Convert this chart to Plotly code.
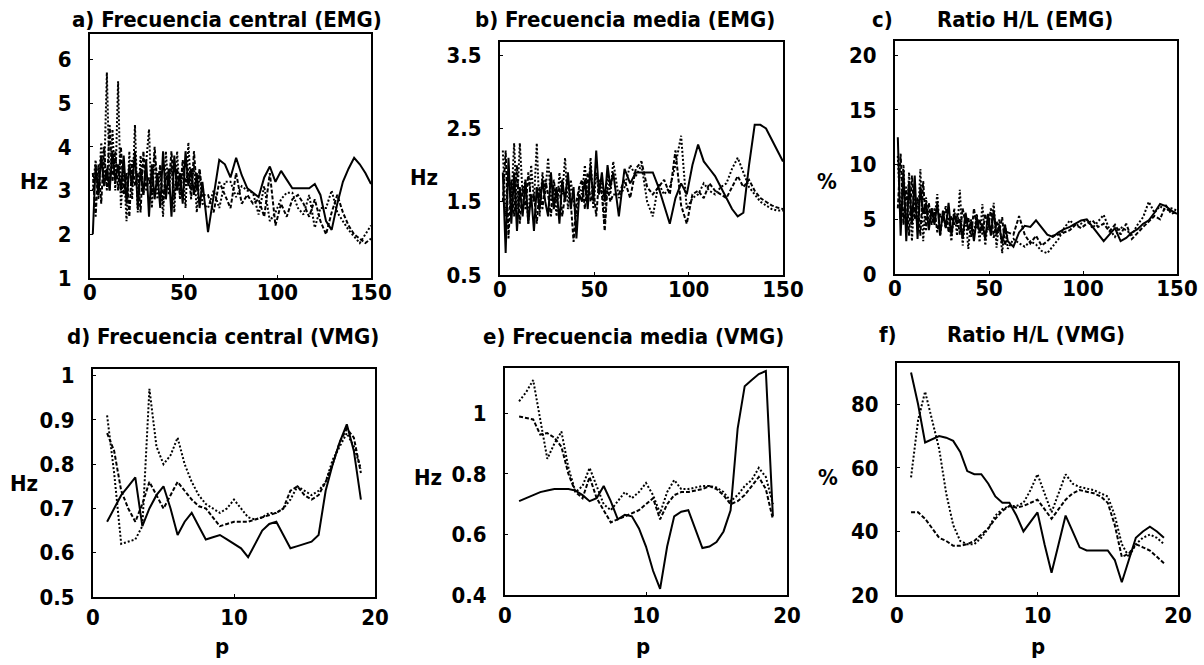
import plotly.graph_objects as go

# ---------------- data ----------------
X_TOP = [1.5, 3, 4.5, 6, 7.5, 9, 10.5, 12, 13.5, 15, 16.5, 18, 19.5, 21, 22.5, 24, 25.5, 27, 28.5, 30,
         31.5, 33, 34.5, 36, 37.5, 39, 40.5, 42, 43.5, 45, 46.5, 48, 49.5, 51, 52.5, 54, 55.5, 57, 58.5, 60,
         63, 66, 69, 72, 75, 78, 81, 84, 87, 90, 93, 96, 99, 102, 105, 108, 111, 114, 117, 120,
         123, 126, 129, 132, 135, 138, 141, 144, 147, 150]

A_SOLID = [2.0, 3.6, 2.9, 3.8, 3.1, 3.5, 3.0, 3.9, 3.2, 3.6, 3.0, 3.8, 2.7, 3.6, 3.1, 3.9, 2.6, 3.5, 2.9, 3.7,
           2.4, 3.6, 2.8, 3.4, 2.6, 3.9, 2.8, 3.5, 2.4, 3.8, 3.0, 3.4, 2.7, 3.9, 3.1, 3.5, 2.9, 3.4, 2.6, 3.2,
           2.05, 2.9, 3.7, 3.6, 3.3, 3.75, 3.35, 3.05, 2.95, 2.85, 3.3, 3.55, 3.2, 3.45, 3.25, 3.05, 3.05, 3.05, 3.05, 3.15,
           2.9, 2.3, 2.1, 2.7, 3.2, 3.5, 3.75, 3.6, 3.4, 3.15]
A_DOT = [3.0, 3.7, 2.8, 4.1, 3.2, 5.7, 3.0, 4.4, 3.0, 5.5, 2.6, 3.6, 2.3, 3.9, 2.8, 4.5, 2.5, 3.8, 2.9, 3.6,
         4.4, 2.6, 3.8, 2.8, 3.5, 2.4, 3.9, 2.9, 3.6, 2.5, 3.9, 2.8, 3.5, 2.6, 4.1, 3.0, 3.6, 2.5, 3.4, 2.7,
         2.6, 3.0, 2.6, 3.2, 3.2, 2.85, 3.1, 3.0, 2.95, 2.45, 3.1, 2.3, 2.5, 2.8, 2.95, 2.95, 2.6, 2.45, 2.9, 2.15,
         2.6, 2.6, 3.0, 2.5, 2.3, 2.1, 1.95, 1.8, 2.0, 2.2]
A_DASH = [3.4, 2.4, 3.6, 2.7, 4.0, 3.0, 4.5, 3.2, 3.9, 3.0, 4.0, 2.9, 3.4, 2.4, 3.7, 3.1, 3.4, 2.5, 3.9, 3.0,
          3.3, 2.9, 4.0, 3.1, 3.6, 2.7, 3.4, 3.1, 3.9, 2.8, 3.5, 2.9, 3.7, 3.1, 3.5, 2.8, 3.9, 3.0, 3.5, 2.9,
          2.9, 2.5, 3.2, 2.9, 2.6, 3.4, 2.7, 2.9, 2.7, 2.8, 2.4, 3.4, 2.2, 2.7, 2.4, 2.8, 2.9, 2.7, 2.4, 2.8,
          2.3, 2.0, 2.5, 2.9, 2.5, 2.2, 2.0, 1.9, 1.8, 1.9]

B_SOLID = [1.9, 0.8, 2.1, 1.2, 1.9, 1.1, 1.7, 1.3, 1.8, 1.2, 1.6, 1.1, 1.7, 1.4, 1.8, 1.5, 1.3, 1.9, 1.4, 1.7,
           1.2, 1.8, 1.5, 1.9, 1.4, 1.7, 1.0, 1.6, 1.5, 1.8, 1.4, 2.0, 1.5, 2.2, 1.6, 1.9, 1.5, 2.0, 1.7, 1.9,
           1.3, 1.95, 1.75, 1.9, 1.9, 1.9, 1.9, 1.7, 1.45, 1.2, 1.55, 1.75, 1.6, 2.0, 2.28, 2.05, 1.95, 1.85, 1.7, 1.55,
           1.4, 1.3, 1.35, 2.0, 2.55, 2.55, 2.5, 2.35, 2.2, 2.05]
B_DOT = [2.2, 1.3, 1.9, 1.5, 2.3, 1.4, 2.3, 1.6, 1.8, 1.2, 2.0, 1.5, 2.3, 1.3, 1.9, 1.6, 2.1, 1.5, 1.7, 1.3,
         1.9, 1.6, 2.1, 1.4, 1.8, 1.5, 1.3, 1.7, 1.6, 2.0, 1.5, 2.1, 1.4, 1.9, 1.6, 1.8, 1.2, 1.9, 1.6, 2.05,
         1.55, 1.7, 2.0, 1.85, 2.0, 1.5, 1.3, 1.75, 1.6, 1.7, 2.0, 2.4, 1.4, 1.55, 1.6, 1.75, 1.65, 1.6, 1.7, 1.75,
         1.95, 2.1, 1.9, 1.7, 1.6, 1.5, 1.45, 1.4, 1.38, 1.38]
B_DASH = [1.5, 2.2, 1.0, 1.8, 1.3, 2.0, 1.2, 1.7, 1.4, 1.9, 1.5, 1.6, 1.2, 1.7, 1.4, 1.8, 1.6, 1.3, 1.8, 1.5,
          1.7, 1.3, 1.6, 1.8, 1.5, 0.95, 1.5, 1.7, 1.8, 1.4, 1.9, 1.5, 1.7, 1.3, 1.8, 1.6, 1.1, 1.7, 1.5, 1.6,
          1.6, 1.8, 1.55, 1.95, 2.05, 1.7, 1.6, 1.7, 1.8, 1.6, 2.2, 1.45, 1.2, 1.6, 1.65, 1.55, 1.75, 1.65, 1.6, 1.55,
          1.7, 1.85, 1.7, 1.8, 1.65, 1.55, 1.5, 1.45, 1.42, 1.4]

C_SOLID = [12.5, 3.5, 9.5, 3.0, 8.5, 4.5, 9.0, 3.2, 8.0, 5.5, 6.5, 4.0, 6.0, 4.5, 6.5, 3.5, 5.8, 4.2, 6.5, 3.5,
           5.5, 4.6, 5.0, 3.2, 5.6, 4.0, 4.8, 3.0, 5.2, 3.8, 4.6, 3.2, 5.5, 3.5, 5.8, 3.6, 4.4, 2.8, 4.5, 3.0,
           2.5, 3.8, 4.4, 4.3, 4.9, 4.3, 3.6, 3.4, 3.8, 4.1, 4.3, 4.6, 4.9, 5.0, 4.3, 3.6, 3.0, 3.6, 4.2, 3.0,
           3.3, 3.8, 4.1, 4.6, 4.9, 5.6, 6.4, 6.2, 5.8, 5.5]
C_DOT = [10.8, 5.0, 10.0, 3.8, 9.3, 3.0, 7.5, 4.0, 9.6, 3.0, 7.0, 4.5, 6.0, 5.0, 7.3, 3.5, 5.5, 4.2, 5.2, 3.0,
         6.0, 3.5, 7.7, 2.6, 5.5, 2.3, 5.0, 3.6, 5.5, 2.9, 6.4, 2.6, 5.0, 3.8, 6.5, 2.4, 5.0, 1.9, 4.5, 2.3,
         3.2, 2.8, 2.5, 3.0, 2.7, 2.1, 1.9, 2.5, 3.2, 4.2, 4.9, 4.4, 4.6, 5.0, 4.2, 4.8, 5.4, 4.1, 3.4, 4.3,
         4.0, 3.6, 4.5, 5.2, 6.6, 5.6, 6.2, 5.8, 6.0, 5.8]
C_DASH = [6.0, 11.0, 4.5, 8.0, 3.5, 9.0, 5.0, 7.0, 3.5, 8.5, 4.0, 6.5, 4.5, 6.0, 3.8, 5.5, 4.8, 6.2, 3.8, 5.3,
          4.5, 5.5, 3.6, 6.0, 4.6, 5.2, 3.4, 6.0, 4.2, 5.0, 3.6, 5.5, 4.0, 6.0, 3.3, 4.8, 3.9, 5.2, 2.6, 3.8,
          3.6, 5.3, 3.6, 2.8, 3.5, 2.6, 3.0, 3.5, 3.6, 3.8, 4.0, 4.5, 4.2, 4.6, 4.9, 4.3, 4.6, 3.9, 4.5, 3.6,
          4.6, 3.2, 3.8, 4.3, 4.8, 5.3, 5.0, 6.3, 5.5, 5.7]

P = [1, 1.5, 2, 2.5, 3, 3.5, 4, 4.5, 5, 5.5, 6, 6.5, 7, 7.5, 8, 8.5, 9, 9.5, 10, 10.5,
     11, 11.5, 12, 12.5, 13, 13.5, 14, 14.5, 15, 15.5, 16, 16.5, 17, 17.5, 18, 18.5, 19]

D_SOLID = [0.67, 0.70, 0.73, 0.75, 0.77, 0.66, 0.70, 0.73, 0.75, 0.70, 0.64, 0.67, 0.69, 0.66, 0.63, 0.635, 0.64, 0.63, 0.62, 0.61,
           0.59, 0.62, 0.65, 0.665, 0.67, 0.64, 0.61, 0.615, 0.62, 0.625, 0.64, 0.74, 0.80, 0.85, 0.89, 0.83, 0.72]
D_DOT = [0.91, 0.78, 0.62, 0.625, 0.63, 0.66, 0.97, 0.84, 0.80, 0.82, 0.86, 0.80, 0.76, 0.73, 0.71, 0.70, 0.69, 0.70, 0.72, 0.70,
         0.68, 0.675, 0.68, 0.69, 0.69, 0.70, 0.72, 0.75, 0.74, 0.73, 0.74, 0.76, 0.81, 0.84, 0.87, 0.84, 0.79]
D_DASH = [0.87, 0.83, 0.74, 0.70, 0.67, 0.71, 0.76, 0.73, 0.70, 0.73, 0.76, 0.74, 0.72, 0.705, 0.70, 0.68, 0.66, 0.665, 0.67, 0.67,
          0.67, 0.675, 0.68, 0.685, 0.69, 0.70, 0.74, 0.75, 0.73, 0.72, 0.73, 0.76, 0.80, 0.85, 0.88, 0.86, 0.78]

E_SOLID = [0.71, 0.72, 0.73, 0.74, 0.745, 0.75, 0.75, 0.75, 0.745, 0.73, 0.71, 0.72, 0.76, 0.71, 0.65, 0.665, 0.66, 0.62, 0.56, 0.48,
           0.42, 0.56, 0.66, 0.675, 0.68, 0.62, 0.555, 0.56, 0.575, 0.61, 0.68, 0.95, 1.09, 1.11, 1.13, 1.14, 0.66]
E_DOT = [1.04, 1.07, 1.11, 0.98, 0.85, 0.90, 0.94, 0.82, 0.74, 0.76, 0.82, 0.76, 0.70, 0.68, 0.71, 0.74, 0.72, 0.74, 0.77, 0.73,
         0.67, 0.74, 0.78, 0.75, 0.75, 0.755, 0.76, 0.76, 0.755, 0.74, 0.71, 0.73, 0.76, 0.78, 0.82, 0.79, 0.70]
E_DASH = [0.99, 0.985, 0.98, 0.93, 0.935, 0.92, 0.89, 0.80, 0.74, 0.72, 0.79, 0.72, 0.68, 0.64, 0.65, 0.66, 0.67, 0.68, 0.70, 0.72,
          0.65, 0.70, 0.73, 0.74, 0.74, 0.745, 0.75, 0.76, 0.75, 0.73, 0.70, 0.71, 0.73, 0.76, 0.79, 0.75, 0.65]

F_SOLID = [90, 80, 68, 69, 70, 69.5, 68.5, 65, 59, 58, 58, 55, 51, 49, 49, 45, 40, 43, 46, 36,
           27, 36, 45, 40, 35, 34, 34, 34, 34, 31, 24, 31, 38, 40, 41.5, 40, 38]
F_DOT = [57, 75, 84, 75, 66, 52, 42, 37, 36, 36, 38, 41, 45, 47, 48, 48, 49, 53, 58, 52,
         46, 52, 58, 55, 54, 53.5, 53, 52, 51, 45, 36, 32, 36, 38, 39, 38, 36]
F_DASH = [46, 46, 44, 41, 38, 37, 35.5, 35.5, 36, 37, 39, 41, 44, 46.5, 48, 47.5, 48, 49, 50, 47,
          44, 47, 50, 52, 53, 52.5, 52, 51, 49, 42, 32, 33, 36, 35, 34, 32, 30]

TITLES = ["a) Frecuencia central (EMG)", "b) Frecuencia media (EMG)", "Ratio H/L (EMG)",
          "d) Frecuencia central (VMG)", "e) Frecuencia media (VMG)", "Ratio H/L (VMG)"]
UNITS = ["Hz", "Hz", "%", "Hz", "Hz", "%"]
X_TICKS_TOP = [0, 50, 100, 150]
X_TICKS_BOT = [0, 10, 20]
Y_TICKS = [[1, 2, 3, 4, 5, 6], [0.5, 1.5, 2.5, 3.5], [0, 5, 10, 15, 20],
           [0.5, 0.6, 0.7, 0.8, 0.9, 1], [0.4, 0.6, 0.8, 1], [20, 40, 60, 80]]
Y_TICKTEXT = [["1", "2", "3", "4", "5", "6"], ["0.5", "1.5", "2.5", "3.5"], ["0", "5", "10", "15", "20"],
              ["0.5", "0.6", "0.7", "0.8", "0.9", "1"], ["0.4", "0.6", "0.8", "1"], ["20", "40", "60", "80"]]

# ---------------- layout ----------------
W, H = 1204, 665
FONT = "Liberation Sans Narrow, Arial Narrow, DejaVu Sans Condensed, Roboto Condensed, sans-serif"

# plot boxes in pixels: (left, right, top, bottom)
BOXES = [(90, 371, 34, 278), (500, 783, 42, 275), (895, 1177, 41, 274),
         (93, 375, 369, 597), (505, 787, 368, 595), (897, 1178, 363, 595)]
Y_RANGES = [[1, 6.58], [0.5, 3.68], [0, 21.3], [0.5, 1.015], [0.4, 1.15], [20, 93]]
X_RANGES = [[0, 150]] * 3 + [[0, 20]] * 3

panels = [
    (X_TOP, A_SOLID, A_DASH, A_DOT),
    (X_TOP, B_SOLID, B_DASH, B_DOT),
    (X_TOP, C_SOLID, C_DASH, C_DOT),
    (P, D_SOLID, D_DASH, D_DOT),
    (P, E_SOLID, E_DASH, E_DOT),
    (P, F_SOLID, F_DASH, F_DOT),
]

fig = go.Figure()
layout = dict(template="none", width=W, height=H,
              margin=dict(l=0, r=0, t=0, b=0, pad=0, autoexpand=False),
              paper_bgcolor="white", plot_bgcolor="white", showlegend=False)

styles = [("solid", "black"), ("4px,2px", "black"), ("2px,2px", "black")]

for i, (xs, s, d, t) in enumerate(panels):
    n = i + 1
    xa = "x" if n == 1 else f"x{n}"
    ya = "y" if n == 1 else f"y{n}"
    for ys, (dash, col) in zip([s, d, t], styles):
        fig.add_trace(go.Scatter(x=xs, y=ys, mode="lines", xaxis=xa, yaxis=ya,
                                 line=dict(color=col, width=2, dash=dash)))
    l, r, tp, bt = BOXES[i]
    tickfont = dict(family=FONT, size=22, color="black", weight="bold")
    layout["xaxis" if n == 1 else f"xaxis{n}"] = dict(
        domain=[l / W, r / W], range=X_RANGES[i], anchor=ya, automargin=False,
        tickmode="array", tickvals=X_TICKS_TOP if i < 3 else X_TICKS_BOT,
        showline=True, linecolor="black", linewidth=2, mirror=True,
        ticks="inside", ticklen=3, tickcolor="black", showgrid=False, zeroline=False,
        tickfont=tickfont, ticklabelstandoff=-6 if i < 3 else 0)
    layout["yaxis" if n == 1 else f"yaxis{n}"] = dict(
        domain=[1 - bt / H, 1 - tp / H], range=Y_RANGES[i], anchor=xa, automargin=False,
        tickmode="array", tickvals=Y_TICKS[i], ticktext=Y_TICKTEXT[i],
        showline=True, linecolor="black", linewidth=2, mirror=True,
        ticks="inside", ticklen=3, tickcolor="black", showgrid=False, zeroline=False,
        tickfont=tickfont, ticklabelstandoff=12)

ann_font = dict(family=FONT, size=22, color="black", weight="bold")
annotations = []
# titles (pixel centres)
title_pos = [(227, 19), (625, 19), (1025, 19), (223, 336), (633, 336), (1036, 334)]
for (cx, cy), txt in zip(title_pos, TITLES):
    annotations.append(dict(x=cx / W, y=1 - cy / H, xref="paper", yref="paper", text=txt,
                            showarrow=False, font=ann_font, xanchor="center", yanchor="middle"))
# separated labels c) and f)
for (cx, cy), txt in zip([(882, 19), (888, 334)], ["c)", "f)"]):
    annotations.append(dict(x=cx / W, y=1 - cy / H, xref="paper", yref="paper", text=txt,
                            showarrow=False, font=ann_font, xanchor="center", yanchor="middle"))
# units
unit_pos = [(34, 182), (424, 177), (827, 182), (24, 483), (428, 477), (828, 477)]
for (cx, cy), txt in zip(unit_pos, UNITS):
    annotations.append(dict(x=cx / W, y=1 - cy / H, xref="paper", yref="paper", text=txt,
                            showarrow=False, font=ann_font, xanchor="center", yanchor="middle"))
# x axis label p
for cx in [222, 643, 1038]:
    annotations.append(dict(x=cx / W, y=1 - 646 / H, xref="paper", yref="paper", text="p",
                            showarrow=False, font=ann_font, xanchor="center", yanchor="middle"))
layout["annotations"] = annotations

fig.update_layout(**layout)
fig.write_html("out.html", config={"displayModeBar": False},
               post_script="document.body.style.margin='0';document.body.style.overflow='hidden';")
